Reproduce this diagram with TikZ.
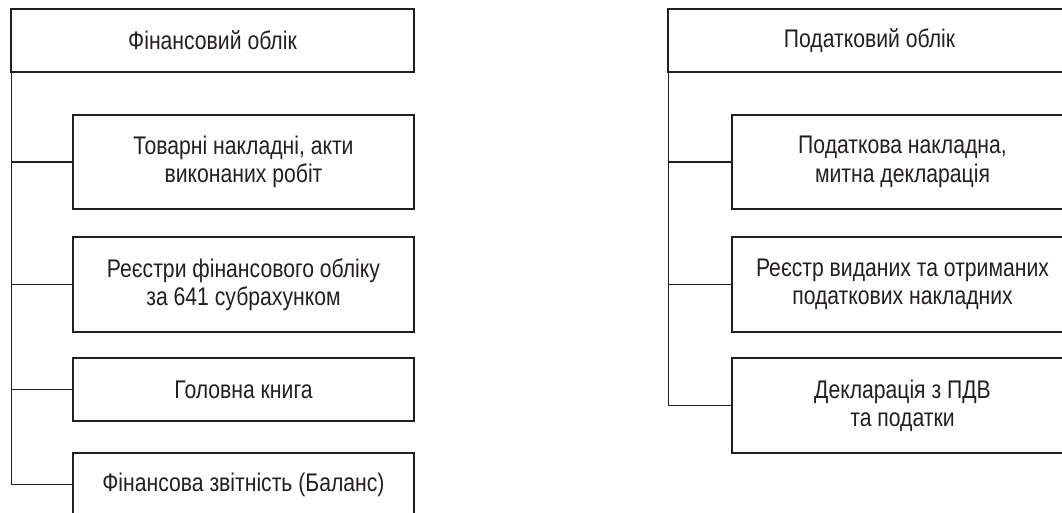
\documentclass[tikz,border=0pt]{standalone}
\usepackage{fontspec}
\setmainfont[FakeStretch=0.83]{Liberation Sans}
\definecolor{ink}{HTML}{231F20}
\begin{document}
\begin{tikzpicture}[x=1pt, y=-1pt,
    box/.style={draw=ink, line width=1.8pt, text=ink, align=center,
      inner sep=0pt, minimum width=341pt,
      font=\fontsize{25.5}{28.3}\selectfont},
    head/.style={box, minimum width=403pt, minimum height=63pt},
    link/.style={draw=ink, line width=1.2pt}]
  \useasboundingbox (0,0) rectangle (1062,513);
  \clip (0,0) rectangle (1062,513);

  % financial side
  \node[head] (fin) at (212.5,40.5) {Фінансовий облік};
  \node[box, minimum height=94pt] (fin1) at (243.5,162) {Товарні накладні, акти\\виконаних робіт};
  \node[box, minimum height=95pt] (fin2) at (243.5,284.5) {Реєстри фінансового обліку\\за 641 субрахунком};
  \node[box, minimum height=63pt] (fin3) at (243.5,389.5) {Головна книга};
  \node[box, minimum height=63pt] (fin4) at (243.5,484.5) {Фінансова звітність (Баланс)};

  % tax side
  \node[head] (tax) at (869.5,40.5) {Податковий облік};
  \node[box, minimum height=94pt] (tax1) at (902.5,162) {Податкова накладна,\\митна декларація};
  \node[box, minimum height=95pt] (tax2) at (902.5,284.5) {Реєстр виданих та отриманих\\податкових накладних};
  \node[box, minimum height=95pt] (tax3) at (902.5,405.5) {Декларація з ПДВ\\та податки};

  \foreach \c in {fin1,fin2,fin3,fin4}
    \draw[link] ([xshift=1pt]fin.south west) |- (\c.west);
  \foreach \c in {tax1,tax2,tax3}
    \draw[link] ([xshift=1pt]tax.south west) |- (\c.west);
\end{tikzpicture}
\end{document}
